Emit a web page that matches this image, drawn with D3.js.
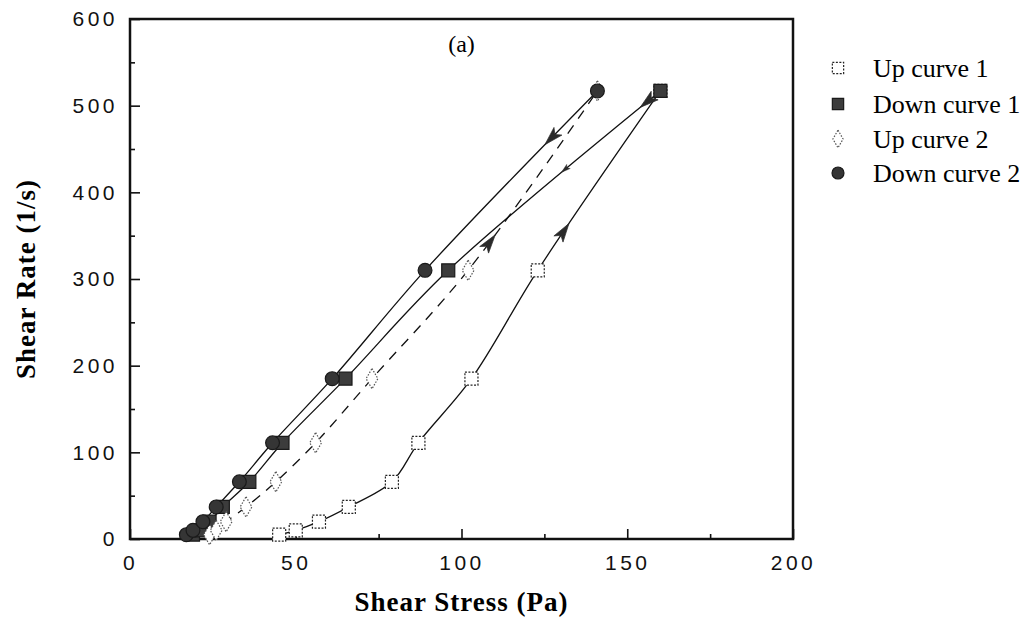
<!DOCTYPE html>
<html>
<head>
<meta charset="utf-8">
<script src="https://cdn.jsdelivr.net/npm/d3@7"></script>
<style>
  body { margin: 0; background: #fff; }
  svg { display: block; }
</style>
</head>
<body>
<div id="chart"></div>
<script>
// shear rates (1/s), same steps for every run
const shearRate = [5, 10, 20, 37, 66, 111, 185, 310, 517];
// shear stress (Pa) read for each series, in the same order
const stressUp1 = [45, 50, 57, 66, 79, 87, 103, 123, 160];
const stressDown1 = [19, 21, 24, 28, 36, 46, 65, 96, 160];
const stressUp2 = [24, 26, 29, 35, 44, 56, 73, 102, 141];
const stressDown2 = [17, 19, 22, 26, 33, 43, 61, 89, 141];

const seriesNames = ["Up curve 1", "Down curve 1", "Up curve 2", "Down curve 2"];
const xTicks = [0, 50, 100, 150, 200];
const yTicks = [0, 100, 200, 300, 400, 500, 600];

// arrows: series index, shear rate where it sits, direction, size
const arrowSeries = [0, 2, 3, 1, 1];
const arrowRate = [364, 351, 455, 498, 423];
const arrowDir = ["up", "up", "down", "down", "down"];
const arrowScale = [1.1, 1.1, 1.1, 1.1, 0.55];

const W = 1034, H = 623;
const margin = {top: 19, right: 241, bottom: 84, left: 130},
    width = W - margin.left - margin.right,
    height = H - margin.top - margin.bottom;

const svg = d3.select("#chart")
  .append("svg")
    .attr("width", W)
    .attr("height", H)
  .append("g")
    .attr("transform", "translate(" + margin.left + "," + margin.top + ")");

const x = d3.scaleLinear().domain([0, 200]).range([0, width]);
const y = d3.scaleLinear().domain([0, 600]).range([height, 0]);

// X axis: major ticks every 50, minor every 25, pointing inward
svg.append("g")
  .attr("transform", "translate(0," + height + ")")
  .call(d3.axisBottom(x).tickValues(d3.range(25, 200, 50)).tickSize(-5).tickFormat(""))
  .call(g => g.select(".domain").remove());
svg.append("g")
  .attr("class", "xaxis")
  .attr("transform", "translate(0," + height + ")")
  .call(d3.axisBottom(x).tickValues(xTicks).tickSize(-10).tickPadding(16))
  .call(g => g.select(".domain").remove());

// Y axis
svg.append("g")
  .call(d3.axisLeft(y).tickValues(d3.range(50, 600, 100)).tickSize(-5).tickFormat(""))
  .call(g => g.select(".domain").remove());
svg.append("g")
  .attr("class", "yaxis")
  .call(d3.axisLeft(y).tickValues(yTicks).tickSize(-10).tickPadding(12))
  .call(g => g.select(".domain").remove());

svg.selectAll(".tick line").attr("stroke", "#111").attr("stroke-width", 1.6);
svg.selectAll(".xaxis text, .yaxis text")
  .style("font-family", "'Liberation Sans', Arial, sans-serif")
  .style("font-size", "21px")
  .style("letter-spacing", "3.5px")
  .attr("fill", "#111");

// frame
svg.append("rect")
  .attr("width", width)
  .attr("height", height)
  .attr("fill", "none")
  .attr("stroke", "#111")
  .attr("stroke-width", 2.5);

// axis titles
svg.append("text")
  .attr("x", width / 2)
  .attr("y", height + 72)
  .attr("text-anchor", "middle")
  .style("font-family", "'Liberation Serif', 'Times New Roman', serif")
  .style("font-weight", "bold")
  .style("font-size", "27px")
  .style("letter-spacing", "1px")
  .text("Shear Stress (Pa)");

svg.append("text")
  .attr("transform", "translate(" + (-95) + "," + (height / 2) + ")rotate(-90)")
  .attr("text-anchor", "middle")
  .style("font-family", "'Liberation Serif', 'Times New Roman', serif")
  .style("font-weight", "bold")
  .style("font-size", "27px")
  .style("letter-spacing", "1px")
  .text("Shear Rate (1/s)");

svg.append("text")
  .attr("x", x(100))
  .attr("y", 33)
  .attr("text-anchor", "middle")
  .style("font-family", "'Liberation Serif', 'Times New Roman', serif")
  .style("font-size", "24px")
  .text("(a)");

const allStress = [stressUp1, stressDown1, stressUp2, stressDown2];
const data = allStress.map(s => s.map((v, i) => ({stress: v, rate: shearRate[i]})));

// lines
const line = d3.line()
  .x(d => x(d.stress))
  .y(d => y(d.rate))
  .curve(d3.curveCatmullRom.alpha(0.5));

const paths = svg.selectAll("path.curve")
  .data(data)
  .enter()
  .append("path")
    .attr("class", "curve")
    .attr("d", line)
    .attr("fill", "none")
    .attr("stroke", "#111")
    .attr("stroke-width", 1.3)
    .attr("stroke-dasharray", (d, i) => i == 2 ? "10,8" : null);

// arrow heads placed along the drawn curves
const arrowShape = "M0,0 L-17,-5 L-13,0 L-17,5 Z";
arrowSeries.forEach((si, k) => {
  const node = paths.nodes()[si];
  const total = node.getTotalLength();
  const target = y(arrowRate[k]);
  let lo = 0, hi = total;
  for (let it = 0; it < 40; it++) {
    const mid = (lo + hi) / 2;
    if (node.getPointAtLength(mid).y > target) lo = mid; else hi = mid;
  }
  const l = (lo + hi) / 2;
  const p = node.getPointAtLength(l);
  const a = node.getPointAtLength(Math.max(0, l - 3));
  const b = node.getPointAtLength(Math.min(total, l + 3));
  let ang = Math.atan2(b.y - a.y, b.x - a.x) * 180 / Math.PI;
  if (arrowDir[k] == "down") ang += 180;
  svg.append("path")
    .attr("d", arrowShape)
    .attr("transform", "translate(" + p.x + "," + p.y + ")rotate(" + ang + ")scale(" + arrowScale[k] + ")")
    .attr("fill", "#2a2a2a")
    .attr("stroke", "#2a2a2a")
    .attr("stroke-width", 0.6);
});

// marker styles per series
const symType = [d3.symbolSquare, d3.symbolSquare, d3.symbolDiamond, d3.symbolCircle];
const symSize = [170, 170, 120, 150];
const symFill = ["#fff", "#3c3c3c", "#fff", "#353535"];
const symStroke = ["#222", "#1a1a1a", "#555", "#1a1a1a"];
const symDash = ["2,1.5", null, "1.5,1.5", null];

data.forEach((s, si) => {
  svg.selectAll("mark" + si)
    .data(s)
    .enter()
    .append("path")
      .attr("d", d3.symbol().type(symType[si]).size(symSize[si]))
      .attr("transform", d => "translate(" + x(d.stress) + "," + y(d.rate) + ")")
      .attr("fill", symFill[si])
      .attr("stroke", symStroke[si])
      .attr("stroke-width", 1.2)
      .attr("stroke-dasharray", symDash[si]);
});

// legend
const legendY = [68, 104, 139, 173];
const legend = d3.select("svg").append("g");
seriesNames.forEach((name, i) => {
  legend.append("path")
    .attr("d", d3.symbol().type(symType[i]).size(symSize[i] * 0.75))
    .attr("transform", "translate(" + 838 + "," + legendY[i] + ")")
    .attr("fill", symFill[i])
    .attr("stroke", symStroke[i])
    .attr("stroke-width", 1.2)
    .attr("stroke-dasharray", symDash[i]);
  legend.append("text")
    .attr("x", 873)
    .attr("y", legendY[i])
    .attr("dy", "0.35em")
    .style("font-family", "'Liberation Serif', 'Times New Roman', serif")
    .style("font-size", "26px")
    .text(name);
});
</script>
</body>
</html>
